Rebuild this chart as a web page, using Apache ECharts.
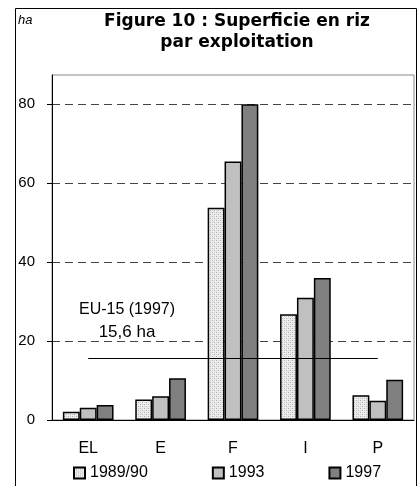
<!DOCTYPE html>
<html>
<head>
<meta charset="utf-8">
<script src="https://cdn.jsdelivr.net/npm/echarts@6/dist/echarts.min.js"></script>
<style>
  html, body { margin: 0; padding: 0; background: #fff; }
  #chart { width: 418px; height: 486px; }
</style>
</head>
<body>
<div id="chart"></div>
<script>
// catégories et valeurs (ha par exploitation)
const categories = ['EL', 'E', 'F', 'I', 'P'];
const seriesNames = ['1989/90', '1993', '1997'];
const v1989 = [2.1, 5.2, 53.8, 26.8, 6.3];
const v1993 = [3.1, 6.0, 65.5, 31.0, 4.9];
const v1997 = [3.8, 10.6, 80, 36.0, 10.2];
const yTicks = [0, 20, 40, 60, 80];
const euAverage = 15.6;

// motif pointillé pour 1989/90
function dotPattern() {
  const c = document.createElement('canvas');
  c.width = 4; c.height = 4;
  const ctx = c.getContext('2d');
  ctx.fillStyle = '#ededed';
  ctx.fillRect(0, 0, 4, 4);
  ctx.fillStyle = '#b0b0b0';
  ctx.fillRect(0, 0, 1, 1);
  ctx.fillRect(2, 2, 1, 1);
  ctx.fillStyle = '#d0d0d0';
  ctx.fillRect(2, 0, 1, 1);
  ctx.fillRect(0, 2, 1, 1);
  return c;
}

const fills = [{ image: dotPattern(), repeat: 'repeat' }, '#c0c0c0', '#808080'];
const values = [v1989, v1993, v1997];
const font = 'Liberation Sans, Arial, sans-serif';

const series = seriesNames.map(function (name, i) {
  return {
    name: name,
    type: 'bar',
    barGap: '0%',
    barCategoryGap: '30%',
    itemStyle: { color: fills[i], borderColor: '#000', borderWidth: 1.5 },
    data: values[i]
  };
});

// ligne de moyenne EU-15 (sur la série du milieu pour être centrée)
series[1].markLine = {
  silent: true,
  symbol: 'none',
  label: { show: false },
  lineStyle: { color: '#000', width: 1, type: 'solid' },
  data: [[{ coord: ['EL', euAverage] }, { coord: ['P', euAverage] }]]
};

const myChart = echarts.init(document.getElementById('chart'), null, { renderer: 'canvas', devicePixelRatio: 1 });
myChart.setOption({
  animation: false,
  textStyle: { fontFamily: font },
  title: {
    text: 'Figure 10 : Superficie en riz\npar exploitation',
    left: 232,
    top: 6,
    textAlign: 'center',
    textStyle: { fontFamily: 'DejaVu Sans', fontSize: 17, fontWeight: 'bold', color: '#000', lineHeight: 21 }
  },
  legend: {
    bottom: 0,
    left: 68,
    itemGap: 64,
    itemWidth: 11,
    itemHeight: 11,
    icon: 'rect',
    textStyle: { fontFamily: font, fontSize: 16, color: '#000' },
    data: seriesNames
  },
  grid: {
    left: 52, top: 75, right: 4, bottom: 66,
    show: true, borderColor: '#888', borderWidth: 1
  },
  xAxis: {
    type: 'category',
    data: categories,
    axisLine: { lineStyle: { color: '#000', width: 1 } },
    axisTick: { length: 7, lineStyle: { color: '#000' } },
    axisLabel: { color: '#000', fontSize: 16, margin: 21 }
  },
  yAxis: {
    type: 'value',
    min: 0,
    max: 87.4,
    interval: 20,
    axisLine: { show: true, lineStyle: { color: '#000', width: 1 } },
    axisTick: { show: true, length: 5, customValues: yTicks, lineStyle: { color: '#000' } },
    axisLabel: { color: '#000', fontSize: 15, margin: 17, customValues: yTicks },
    splitLine: { show: true, lineStyle: { color: '#444', type: [8, 5], width: 1 } }
  },
  graphic: [
    { type: 'rect', shape: { x: 15.5, y: 8.5, width: 401, height: 500 }, style: { fill: 'none', stroke: '#000', lineWidth: 1 }, z: 100 },
    { type: 'text', left: 18, top: 14, style: { text: 'ha', font: 'italic 13px ' + font, fill: '#000' } },
    { type: 'text', x: 127, y: 310, style: { text: 'EU-15 (1997)', font: '16px ' + font, fill: '#000', align: 'center', verticalAlign: 'middle' } },
    { type: 'text', x: 127, y: 332, style: { text: '15,6 ha', font: '17px ' + font, fill: '#000', align: 'center', verticalAlign: 'middle' } }
  ],
  series: series
});
</script>
</body>
</html>
